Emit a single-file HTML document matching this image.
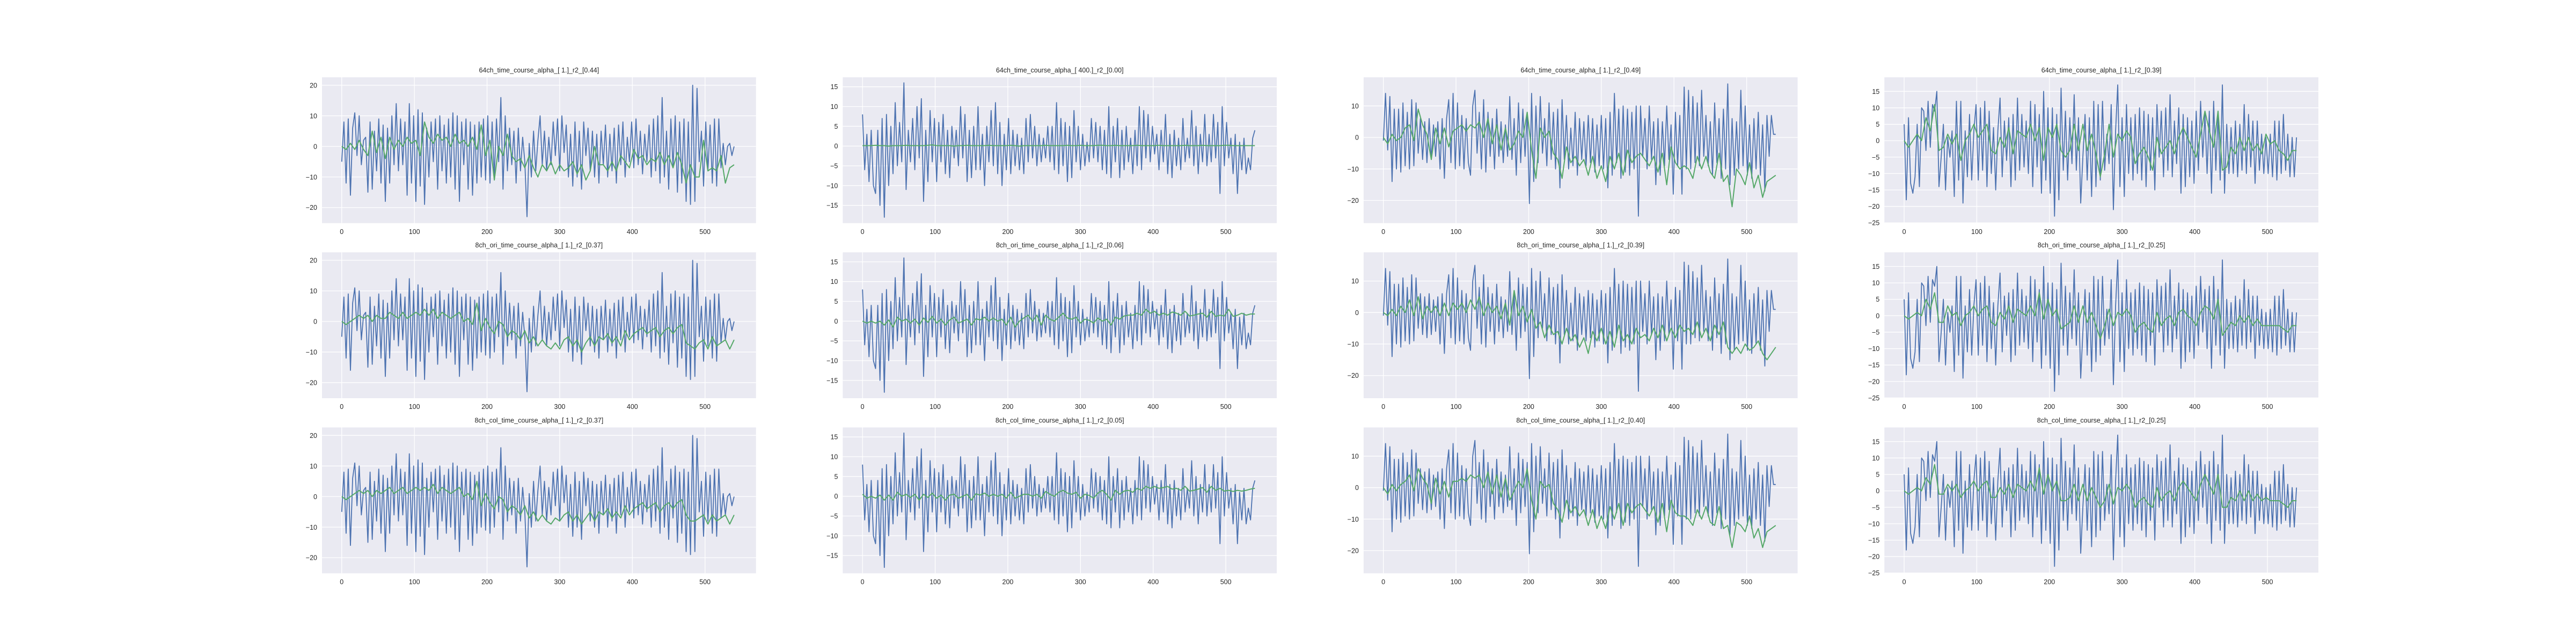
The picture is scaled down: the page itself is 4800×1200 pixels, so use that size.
<!DOCTYPE html>
<html><head><meta charset="utf-8">
<style>
html,body{margin:0;padding:0;background:#fff;}
svg{display:block;}
text{font-family:"Liberation Sans",sans-serif;fill:#262626;}
</style></head>
<body>
<svg id="fig" width="4800" height="1200" viewBox="0 0 4800 1200" xmlns="http://www.w3.org/2000/svg"></svg>
<script>
// ---- data ----
const titles = [
 "64ch_time_course_alpha_[ 1.]_r2_[0.44]","64ch_time_course_alpha_[ 400.]_r2_[0.00]","64ch_time_course_alpha_[ 1.]_r2_[0.49]","64ch_time_course_alpha_[ 1.]_r2_[0.39]",
 "8ch_ori_time_course_alpha_[ 1.]_r2_[0.37]","8ch_ori_time_course_alpha_[ 1.]_r2_[0.06]","8ch_ori_time_course_alpha_[ 1.]_r2_[0.39]","8ch_ori_time_course_alpha_[ 1.]_r2_[0.25]",
 "8ch_col_time_course_alpha_[ 1.]_r2_[0.37]","8ch_col_time_course_alpha_[ 1.]_r2_[0.05]","8ch_col_time_course_alpha_[ 1.]_r2_[0.40]","8ch_col_time_course_alpha_[ 1.]_r2_[0.25]"
];
const xTicks = [0,100,200,300,400,500];
const yTicksCol0 = [20,10,0,-10,-20];
const yTicksCol1 = [15,10,5,0,-5,-10,-15];
const yTicksCol2 = [10,0,-10,-20];
const yTicksCol3 = [15,10,5,0,-5,-10,-15,-20,-25];
const yMin = [-25.1,-19.5,-27.2,-25.1];
const yMax = [22.6,17.4,19.1,19.3];
const blueStep = 3, greenStep = 6, nSamples = 543;

const blue0 = [-5,8,-12,9,-16,6,11,-3,10,-6, 2,3,-15,8,-14,5,-8,9,-12,7, -18,6,-12,10,-6,14,-8,9,-6,8, -16,14,-12,10,-18,12,-13,11,-19,6, -10,8,-5,9,-14,10,-8,7,-12,9, -10,11,-14,10,-18,8,-6,9,-14,8, -16,7,-12,8,-10,9,-11,10,-12,8, -10,9,-5,16,-14,10,-8,6,-6,5, -12,6,-8,3,-5,-23,1,-10,5,-8, 2,10,-6,5,-8,3,-6,8,-3,9, -8,10,-2,7,-10,4,-13,8,-10,5, -14,8,-3,6,-8,5,-10,4,-12,5, -6,7,-10,4,-8,6,-12,7,-6,8, -10,3,-5,8,-7,9,-6,5,-9,4, -5,7,-10,9,-8,10,-12,16,-10,5, -14,9,-7,10,-15,8,-12,9,-18,8, -19,20,-18,19,-5,5,-13,8,-8,7, -12,9,-13,9,-7,1,-6,0,1,-3, 0];
const blue1 = [8,-6,3,-9,4,-10,-12,4,-15,7, -18,8,-10,5,-7,11,-5,6,-4,16, -11,4,-4,7,-6,10,-3,12,-14,4, -9,9,-4,7,-9,6,-4,8,-7,4, -8,5,-3,4,-5,10,-3,8,-9,4, -8,5,-6,10,-6,3,-10,5,-4,9, -5,11,-7,6,-10,3,-6,7,-7,4, -5,3,-6,2,-7,7,-4,8,-3,5, -5,3,-4,2,-3,5,-4,5,-6,11, -7,7,-5,6,-9,5,-8,9,-4,5, -6,3,-5,1,-4,7,-3,6,-4,5, -6,4,-7,10,-8,5,-4,7,-8,4, -6,5,-4,2,-7,4,-5,10,-6,9, -3,8,-4,5,-2,3,-6,4,-4,8, -7,3,-8,4,-5,2,-6,7,-4,2, -3,9,-5,5,-7,3,-4,8,-5,3, -4,8,-3,6,-12,10,-5,6,-3,2, -7,3,-12,1,-6,2,-7,-3,-6,2, 4];
const blue2 = [-1,14,-4,13,-14,9,-10,9,-11,11, -9,8,-10,12,-9,11,-5,6,-7,5, -8,6,-7,4,-6,5,-10,6,-13,6, 12,-8,14,-10,11,-9,7,-10,6,-8, -12,10,15,-5,8,-10,12,-11,8,-6, 6,-10,9,-6,5,-8,4,-6,13,-7, 6,-12,11,-8,9,-6,8,-21,14,-14, 10,-8,13,-5,6,-9,11,-7,8,-10, 9,-16,12,-7,7,-10,3,-9,8,-12, 6,-7,5,-9,7,-8,6,-11,4,-9, 7,-10,6,-16,8,-12,14,-8,9,-13, 10,-11,9,-12,8,-10,10,-25,10,-6, 6,-10,10,-7,5,-15,6,-12,5,-9, 10,-7,4,-18,8,-9,7,-18,16,-10, 15,-10,13,-8,11,-9,15,-6,7,-9, 5,-12,11,-8,6,-13,9,-10,17,-15, 6,-12,5,-10,15,-9,10,-12,4,-13, 6,-10,8,-12,4,-17,7,-6,7,1, 1];
const blue3 = [5,-18,7,-13,-16,-11,5,-14,10,9, -3,12,-2,11,9,15,-14,-5,5,-15, 1,-5,3,-17,12,-12,12,-19,3,-11, 8,-12,3,11,-12,10,-9,12,-14,9, -10,4,-15,3,13,-11,6,-6,7,-14, 8,-12,13,-9,8,-8,6,-10,12,-14, 11,-8,8,-16,15,-12,10,-16,10,-23, 8,-18,16,-9,9,-12,7,-7,14,-9, 7,-19,-5,8,-12,7,-17,12,-14,11, -12,12,-9,2,-7,11,-21,3,17,-14, 7,-17,11,-10,7,-12,8,-10,10,-12, 9,-14,8,-9,7,-15,11,-5,9,-11, 10,-9,14,-11,6,-7,10,-16,8,-14, 7,-11,6,-13,9,-9,12,-5,8,-10, 9,-16,12,-9,8,-12,17,-16,5,-10, 4,-10,6,-11,5,-9,11,-10,8,-8, 6,-13,6,-9,2,-10,1,-10,2,-11, 6,-12,6,-10,8,-9,2,-11,1,-11, 1];

const green00 = [0,-1,1,-1,2,-1,-3,5,-2,3, -4,3,-1,2,0,3,1,2,-3,8, 3,1,4,2,3,0,4,1,2,0, 3,-1,7,-3,2,-11,0,-3,4,-3, -5,-4,-7,-3,-7,-10,-6,-8,-5,-9, -6,-8,-7,-5,-9,-6,-11,-8,0,-6, -6,-8,-5,-8,-3,-5,-7,-1,-4,-3, -6,-4,-5,-2,-6,-3,-7,-2,-6,-12, -6,-10,-10,2,-8,-7,-8,-3,-12,-7, -6];
const green01 = [0.1,0.1,0.1,0.2,0.1,0.1,0.0,0.1,0.1,0.1, 0.2,0.1,0.1,0.1,0.1,0.2,0.3,0.1,0.1,0.1, 0.1,0.0,0.1,0.1,0.2,0.1,0.1,0.1,0.1,0.2, 0.1,0.1,0.1,0.1,0.2,0.1,0.0,0.1,0.1,0.1, 0.1,0.1,0.2,0.1,0.1,0.1,0.1,0.2,0.1,0.1, 0.2,0.1,0.1,0.1,0.2,0.2,0.1,0.1,0.2,0.1, 0.1,0.1,0.1,0.2,0.1,0.1,0.1,0.1,0.2,0.1, 0.1,0.1,0.1,0.1,0.2,0.1,0.1,0.1,0.2,0.1, 0.1,0.1,0.1,0.2,0.2,0.1,0.1,0.1,0.1,0.1, 0.1];
const green02 = [0,-2,1,-1,0,3,4,-1,9,4, 1,-7,3,-2,3,-3,2,3,4,2, 4,3,5,0,6,-2,4,-4,3,-4, -2,2,0,8,-4,-13,3,0,2,-5, -7,-13,-3,-8,-6,-9,-7,-12,-6,-13, -9,-14,-6,-10,-5,-12,-4,-8,-6,-5, -7,-9,-6,-11,-5,-15,-3,-8,-10,-9, -10,-13,-6,-10,-6,-11,-13,-5,-14,-12, -22,-10,-12,-15,-8,-16,-12,-19,-14,-13, -12];
const green03 = [0,-2,0,2,0,7,3,11,-3,-2, 2,-1,2,-6,0,2,5,1,3,5, -3,-4,1,-2,4,-4,3,2,1,5, 0,4,-6,4,1,5,-3,-5,-3,5, -3,5,-3,2,-4,-11,-4,5,-5,2, 0,3,1,-7,-4,-2,-5,-9,1,-4, -2,0,-4,1,4,1,-2,-5,2,9, 3,-2,9,-9,-8,-2,-4,1,-3,1, -3,-1,-4,2,-1,0,-3,-4,-6,-3, -3];
const green10 = [0,-1,0,1,2,1,2,0,2,1, 1,3,2,1,3,1,2,3,2,4, 2,4,1,3,2,1,2,3,0,1, -1,6,-3,1,-2,-4,0,-1,-5,-3, -4,-6,-3,-7,-5,-8,-6,-8,-9,-7, -9,-6,-5,-8,-6,-10,-7,-5,-8,-5, -6,-4,-7,-5,-8,-3,-6,-4,-3,-2, -4,-3,-2,-5,-3,-2,-4,-2,-1,-7, -8,-9,-7,-6,-9,-5,-8,-7,-6,-9, -6];
const green11 = [0,-0.5,0,-0.5,0,-1,0.3,-1.5,1,0, 0.5,-0.5,0.5,-1,0.8,-0.3,1.2,-0.5,0.5,-1, 0.3,1,-0.5,0,0.5,-1,0.6,0.3,1,0, 0.8,0,0.5,-1,1,-1.5,0,0.8,1.5,0, 1.5,-1,1.5,0.5,0,1,2,0.8,0.5,1, -0.5,0.5,0.2,-0.5,0.8,0,0.5,-1,1,0.5, 1.3,1.5,1.5,2,1.5,3,2,2.5,1.5,2, 1.5,2.3,2,1.5,2.5,1.3,1.5,1.8,2,1, 2.5,1.2,1.5,1.3,3,1.2,1.5,2,1.5,1.8, 1.8];
const green12 = [0,-1,1,-1,2,0,4,-1,5,-2, 2,0,2,-1,3,-1,3,1,3,0, 4,1,5,-1,3,0,2,-2,3,-4, 7,-1,2,-3,1,-5,-3,-8,-4,-7, -6,-10,-5,-9,-7,-11,-8,-13,-6,-9, -5,-10,-6,-11,-4,-9,-7,-10,-5,-8, -7,-9,-5,-8,-4,-9,-5,-8,-4,-6, -5,-7,-3,-8,-5,-9,-4,-7,-3,-11, -13,-11,-13,-10,-12,-11,-9,-13,-15,-13, -11];
const green13 = [0,-1,0,1,0,5,2,7,-2,-2, 3,0,1,-3,0,1,3,0,2,3, -2,-3,1,-1,3,-2,2,1,0,3, 0,7,-1,5,0,2,-4,-3,-2,3, -2,3,-2,1,-3,-7,-3,2,-3,1, 0,2,0,-5,-3,-2,-4,-5,1,-3, -1,0,-3,1,2,0,-1,-3,1,3, 2,-1,5,-6,-4,-2,-3,0,-2,0, -3,-1,-3,-3,-3,-3,-3,-4,-5,-3, -3];
const green20 = [0,-1,0,1,2,1,2,0,2,1, 2,3,1,2,3,1,2,3,2,3, 2,4,1,3,2,1,2,3,0,1, -1,5,-3,1,-2,-4,0,-1,-5,-3, -4,-6,-3,-7,-5,-8,-6,-8,-9,-7, -8,-6,-5,-8,-6,-9,-7,-5,-8,-5, -6,-4,-7,-5,-7,-3,-6,-4,-3,-2, -4,-3,-2,-5,-3,-2,-4,-2,-1,-6, -8,-8,-7,-6,-9,-6,-8,-7,-6,-9, -6];
const green21 = [0.5,-0.5,0,-0.5,0.3,-1,0.3,-1,1,0, 0.5,-0.3,0.5,-1,0.5,-0.3,0.8,-0.5,0.3,-1, 0.3,0.5,-0.5,0,0.5,-1,0.6,0.3,0.8,0, 0.5,0,0.5,-0.5,1,-0.5,0,0.5,0.5,0, 0.5,-0.5,1.2,0.5,0,1,1.5,0.8,0.5,1, -0.5,0.5,0.2,-0.5,0.8,1.5,0.5,-1,1.5,0.5, 1.3,1.5,1,2,1.5,2.5,2,2.5,2,2.2, 2.5,1.8,2,1.5,2.5,1.3,1.5,1.8,2.2,1, 2.5,1.5,2,1.3,1.5,1.2,1.5,1.3,1.5,1.8, 2];
const green22 = [0,-2,1,-1,1,2,4,-1,6,3, 1,-5,3,-2,2,-3,2,2,3,2, 4,3,4,0,5,-2,4,-3,3,-4, -1,2,0,6,-4,-10,2,0,1,-5, -7,-11,-4,-8,-6,-9,-7,-12,-7,-13, -9,-13,-6,-10,-5,-12,-5,-8,-6,-5, -7,-9,-6,-11,-5,-14,-4,-8,-9,-9, -10,-12,-7,-10,-6,-11,-12,-6,-13,-12, -19,-11,-12,-14,-9,-16,-13,-19,-14,-13, -12];
const green23 = [0,-1,0,1,0,4,2,8,-1,-1, 2,0,2,-2,0,1,3,0,2,3, -2,-2,1,-1,2,-2,2,1,0,3, 0,7,-1,5,0,3,-3,-3,-2,2, -3,2,-3,1,-2,-5,-3,2,-4,1, 0,2,0,-5,-3,-2,-4,-5,1,-3, -1,0,-3,1,3,1,-1,-3,2,5, 2,-1,5,-5,-5,-2,-3,0,-3,0, -3,-1,-3,-2,-3,-3,-3,-4,-5,-3, -3];

const blues = [blue0, blue1, blue2, blue3];
const greens = [green00, green01, green02, green03, green10, green11, green12, green13, green20, green21, green22, green23];
const yTickSets = [yTicksCol0, yTicksCol1, yTicksCol2, yTicksCol3];

// ---- layout ----
const NS = "http://www.w3.org/2000/svg";
const svg = document.getElementById('fig');
const axL = [600, 1570.4, 2540.9, 3511.3], axW = 808.7;
const axT = [144, 470.2, 796.5], axH = 271.8;
const xMin = -27.15, xMax = 570.15;
function mk(tag, attrs, parent) {
  const e = document.createElementNS(NS, tag);
  for (const k in attrs) e.setAttribute(k, attrs[k]);
  (parent || svg).appendChild(e);
  return e;
}
function fmt(v){ return v < 0 ? "\u2212" + (-v) : String(v); }

for (let r = 0; r < 3; r++) {
  for (let c = 0; c < 4; c++) {
    const idx = r * 4 + c;
    const L = axL[c], T = axT[r];
    const xs = v => L + (v - xMin) / (xMax - xMin) * axW;
    const ys = v => T + (yMax[c] - v) / (yMax[c] - yMin[c]) * axH;
    const g = mk('g', {});
    
    
    const bg = mk('rect', {x: L, y: T, width: axW, height: axH, fill: '#EAEAF2'}, g);
    
    
    // x grid + ticks
    xTicks.forEach(t => {
      const x = xs(t);
      const gl = mk('line', {x1: x, x2: x, y1: T, y2: T + axH, stroke: '#fff', 'stroke-width': 1.3}, g);
      
      
      const tl = mk('text', {x: x, y: T + axH + 20, 'font-size': 12.5, 'text-anchor': 'middle'}, g);
      tl.textContent = fmt(t);
      
      
    });
    yTickSets[c].forEach(t => {
      const y = ys(t);
      const gl = mk('line', {x1: L, x2: L + axW, y1: y, y2: y, stroke: '#fff', 'stroke-width': 1.3}, g);
      
      
      const tl = mk('text', {x: L - 9, y: y + 4.5, 'font-size': 12.5, 'text-anchor': 'end'}, g);
      tl.textContent = fmt(t);
      
      
    });
    // blue series
    const bd = blues[c].map((v, i) => (i ? 'L' : 'M') + xs(Math.min(i * blueStep, nSamples - 1)).toFixed(1) + ',' + ys(v).toFixed(1)).join('');
    const bp = mk('path', {d: bd, fill: 'none', stroke: '#4C72B0', 'stroke-width': 1.8, 'stroke-linejoin': 'round'}, g);
    
    
    const gd = greens[idx].map((v, i) => (i ? 'L' : 'M') + xs(Math.min(i * greenStep, nSamples - 1)).toFixed(1) + ',' + ys(v).toFixed(1)).join('');
    const gp = mk('path', {d: gd, fill: 'none', stroke: '#55A868', 'stroke-width': 2, 'stroke-linejoin': 'round'}, g);
    
    
    const tt = mk('text', {x: L + axW / 2, y: T - 9, 'font-size': 12.5, 'text-anchor': 'middle'}, g);
    tt.textContent = titles[idx];
    
    
  }
}
</script>
</body></html>
